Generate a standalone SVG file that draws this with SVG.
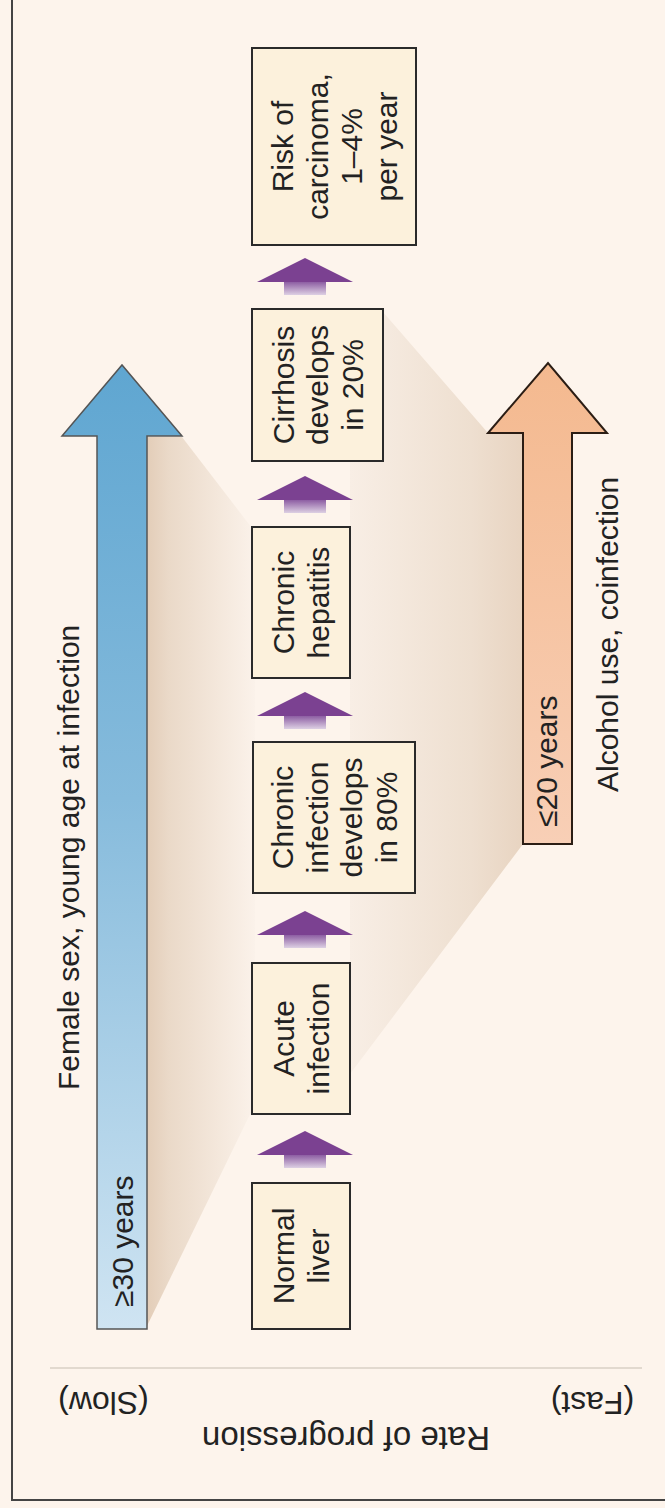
<svg xmlns="http://www.w3.org/2000/svg" width="665" height="1508" viewBox="0 0 665 1508">
<defs>
<linearGradient id="blueG" x1="0" y1="365" x2="0" y2="1329" gradientUnits="userSpaceOnUse">
<stop offset="0" stop-color="#5fa6d1"/>
<stop offset="0.45" stop-color="#86bbdc"/>
<stop offset="1" stop-color="#cfe4f2"/>
</linearGradient>
<linearGradient id="orangeG" x1="0" y1="363" x2="0" y2="844" gradientUnits="userSpaceOnUse">
<stop offset="0" stop-color="#f4b98f"/>
<stop offset="1" stop-color="#f8cfb6"/>
</linearGradient>
<linearGradient id="blueShade" x1="147" y1="0" x2="255" y2="0" gradientUnits="userSpaceOnUse">
<stop offset="0" stop-color="#e3cdb8"/>
<stop offset="0.2" stop-color="#ead9c8"/>
<stop offset="1" stop-color="#fbf2ea"/>
</linearGradient>
<linearGradient id="orangeShade" x1="523" y1="0" x2="350" y2="0" gradientUnits="userSpaceOnUse">
<stop offset="0" stop-color="#e8d4c1"/>
<stop offset="0.3" stop-color="#eedfd0"/>
<stop offset="1" stop-color="#f8eee5"/>
</linearGradient>
<linearGradient id="stemG" x1="0" y1="0" x2="0" y2="1">
<stop offset="0" stop-color="#8d5ea3"/>
<stop offset="1" stop-color="#ddd0e3"/>
</linearGradient>
<g id="pArrow">
<polygon points="0,0 48,24 -48,24" fill="#7b4191"/>
<rect x="-21" y="24" width="42" height="13" fill="url(#stemG)"/>
</g>
</defs>
<style>
text{font-family:"Liberation Sans",Arial,sans-serif;fill:#222;}
.bt{font-size:30px;text-anchor:middle;}
.lb{font-size:30px;}
.box{fill:#fcf1dc;stroke:#2a2a2a;stroke-width:2;}
</style>
<rect x="0" y="0" width="665" height="1508" fill="#fdf4ec"/>
<path d="M12,0 V1500 H665" fill="none" stroke="#444" stroke-width="2"/>
<line x1="50" y1="1368" x2="642" y2="1368" stroke="#e2d9cf" stroke-width="2"/>

<g id="shades">
<polygon points="147,437 182,437 255,532 255,1104 147,1326" fill="url(#blueShade)"/>
<polygon points="383,312 488,433 523,433 523,844 350,1074 350,312" fill="url(#orangeShade)"/>
</g>

<g id="slow-arrow">
<path d="M97,1329 V436 H62 L122,365 L182,436 H147 V1329 Z" fill="url(#blueG)" stroke="#555" stroke-width="1.5"/>
<text class="lb" transform="translate(133,1307) rotate(-90)">≥30 years</text>
<text class="lb" transform="translate(79,1090) rotate(-90)">Female sex, young age at infection</text>
</g>

<g id="fast-arrow">
<path d="M523,844 V433 H488 L548,363 L607,433 H572 V844 Z" fill="url(#orangeG)" stroke="#2b1d14" stroke-width="2"/>
<text class="lb" transform="translate(557,827) rotate(-90)">≤20 years</text>
<text class="lb" transform="translate(618,792) rotate(-90)">Alcohol use, coinfection</text>
</g>

<g id="connectors">
<use href="#pArrow" x="305" y="1131"/>
<use href="#pArrow" x="305" y="911"/>
<use href="#pArrow" x="305" y="692"/>
<use href="#pArrow" x="305" y="476"/>
<use href="#pArrow" x="305" y="258"/>
</g>

<g id="risk">
<rect class="box" x="252" y="48" width="164" height="197"/>
<g transform="translate(334,146.5) rotate(-90)">
<text class="bt" x="0" y="-41">Risk of</text>
<text class="bt" x="0" y="-6.5">carcinoma,</text>
<text class="bt" x="0" y="28">1–4%</text>
<text class="bt" x="0" y="62.5">per year</text>
</g>
</g>

<g id="cirrhosis">
<rect class="box" x="252" y="309" width="131" height="152"/>
<g transform="translate(317.5,385) rotate(-90)">
<text class="bt" x="0" y="-24">Cirrhosis</text>
<text class="bt" x="0" y="10.5">develops</text>
<text class="bt" x="0" y="45">in 20%</text>
</g>
</g>

<g id="chronic-hepatitis">
<rect class="box" x="252" y="527" width="98" height="151"/>
<g transform="translate(301,602.5) rotate(-90)">
<text class="bt" x="0" y="-7">Chronic</text>
<text class="bt" x="0" y="27.5">hepatitis</text>
</g>
</g>

<g id="chronic-infection">
<rect class="box" x="253" y="742" width="162" height="151"/>
<g transform="translate(334,817.5) rotate(-90)">
<text class="bt" x="0" y="-41">Chronic</text>
<text class="bt" x="0" y="-6.5">infection</text>
<text class="bt" x="0" y="28">develops</text>
<text class="bt" x="0" y="62.5">in 80%</text>
</g>
</g>

<g id="acute-infection">
<rect class="box" x="252" y="963" width="98" height="151"/>
<g transform="translate(301,1038.5) rotate(-90)">
<text class="bt" x="0" y="-7">Acute</text>
<text class="bt" x="0" y="27.5">infection</text>
</g>
</g>

<g id="normal-liver">
<rect class="box" x="252" y="1183" width="98" height="146"/>
<g transform="translate(301,1256) rotate(-90)">
<text class="bt" x="0" y="-7">Normal</text>
<text class="bt" x="0" y="27.5">liver</text>
</g>
</g>

<g id="axis-labels">
<text transform="translate(103.5,1392) rotate(180)" style="font-size:32px;text-anchor:middle">(Slow)</text>
<text transform="translate(592.5,1392) rotate(180)" style="font-size:32px;text-anchor:middle">(Fast)</text>
<text transform="translate(346,1427) rotate(180)" style="font-size:33px;text-anchor:middle">Rate of progression</text>
</g>
</svg>
